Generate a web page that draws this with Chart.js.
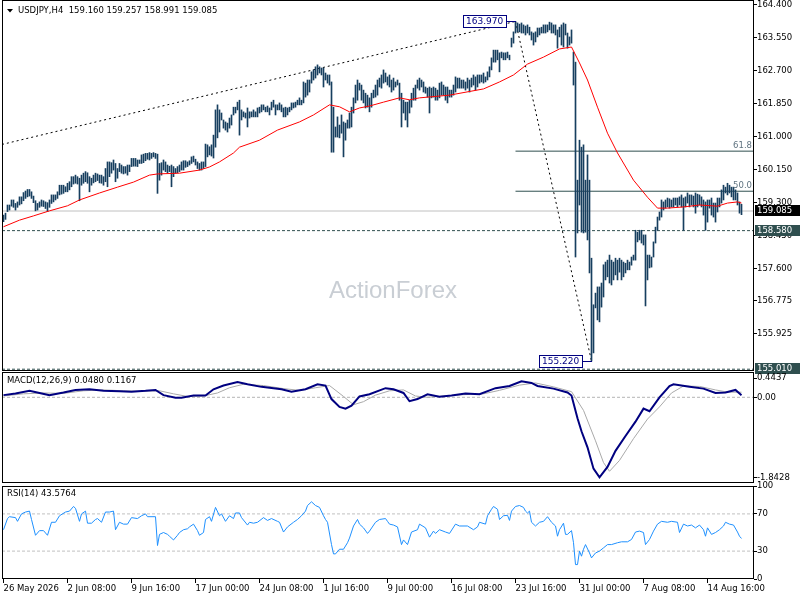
<!DOCTYPE html>
<html>
<head>
<meta charset="utf-8">
<title>USDJPY H4</title>
<script src="https://cdn.jsdelivr.net/npm/chart.js@4.4.1/dist/chart.umd.min.js"></script>
<style>
  html, body { margin: 0; padding: 0; background: #fff; }
  #wrap { position: relative; width: 800px; height: 600px; overflow: hidden; }
  canvas { position: absolute; left: 0; }
</style>
</head>
<body>
<div id="wrap">
  <canvas id="priceChart" width="800" height="375" style="top:0"></canvas>
  <canvas id="macdChart" width="800" height="111" style="top:372px"></canvas>
  <canvas id="rsiChart" width="800" height="122" style="top:478px"></canvas>
</div>
<script>
// time axis labels, one every 32 bars
const timeLabels = ['26 May 2026', '2 Jun 08:00', '9 Jun 16:00', '17 Jun 00:00', '24 Jun 08:00', '1 Jul 16:00',
  '9 Jul 00:00', '16 Jul 08:00', '23 Jul 16:00', '31 Jul 00:00', '7 Aug 08:00', '14 Aug 16:00']

// H4 bars, high / low
const priceHigh = [
  158.98,159.03,159.24,159.24,159.37,159.37,159.28,159.32,159.45,159.45,
  159.56,159.60,159.64,159.64,159.58,159.47,159.35,159.28,159.32,159.37,
  159.35,159.32,159.30,159.37,159.50,159.50,159.50,159.58,159.75,159.75,
  159.75,159.71,159.80,159.84,159.97,159.97,160.01,159.97,159.93,160.01,
  160.06,160.10,160.07,159.97,159.93,160.01,160.06,160.04,160.01,160.01,
  159.97,160.18,160.35,160.35,160.33,160.40,160.31,160.18,160.31,160.27,
  160.23,160.23,160.27,160.27,160.44,160.44,160.44,160.40,160.40,160.53,
  160.55,160.57,160.57,160.59,160.57,160.59,160.57,160.55,160.31,160.33,
  160.40,160.35,160.27,160.24,160.27,160.23,160.18,160.23,160.27,160.35,
  160.38,160.38,160.35,160.38,160.48,160.50,160.42,160.35,160.31,160.35,
  160.35,160.81,160.79,160.74,160.79,161.04,161.69,161.82,161.69,161.61,
  161.43,161.38,161.35,161.48,161.56,161.76,161.76,161.89,161.94,161.69,
  161.64,161.61,161.74,161.64,161.64,161.69,161.64,161.74,161.76,161.82,
  161.82,161.76,161.79,161.74,161.89,161.94,161.82,161.82,161.87,161.82,
  161.74,161.76,161.74,161.76,161.87,161.87,161.89,161.94,162.00,161.94,
  162.41,162.38,162.46,162.46,162.67,162.72,162.80,162.85,162.80,162.77,
  162.77,162.64,162.59,162.59,162.41,161.76,161.25,161.51,161.30,161.56,
  161.38,161.35,161.43,161.61,161.76,162.00,162.33,162.46,162.38,162.33,
  162.20,162.12,162.07,162.00,162.12,162.20,162.33,162.46,162.51,162.59,
  162.72,162.64,162.54,162.59,162.46,162.51,162.41,162.46,162.38,162.12,
  161.94,161.89,161.89,161.94,162.12,162.25,162.33,162.46,162.51,162.46,
  162.41,162.28,162.25,162.28,162.25,162.28,162.25,162.20,162.38,162.41,
  162.33,162.28,162.28,162.20,162.20,162.33,162.54,162.51,162.51,162.46,
  162.46,162.41,162.51,162.46,162.51,162.59,162.54,162.59,162.59,162.59,
  162.64,162.54,162.67,162.80,163.03,163.23,163.23,163.23,163.16,163.18,
  163.16,163.16,163.18,163.10,163.54,163.70,163.97,163.93,163.90,163.93,
  163.88,163.85,163.88,163.82,163.70,163.67,163.70,163.80,163.80,163.82,
  163.88,163.88,163.88,163.95,163.93,163.88,163.88,163.75,163.82,163.88,
  163.93,163.90,163.67,163.57,163.75,163.18,162.92,159.88,160.91,160.73,
  160.79,159.88,160.53,159.88,157.87,156.67,156.97,157.13,157.13,157.23,
  157.70,157.77,157.82,157.95,157.82,157.77,157.87,157.82,157.87,157.82,
  157.77,157.74,157.82,157.77,157.90,157.95,158.59,158.54,158.59,158.59,
  158.47,158.47,157.95,157.95,157.90,158.29,158.67,158.93,159.06,159.37,
  159.32,159.37,159.42,159.40,159.37,159.42,159.42,159.42,159.45,159.50,
  159.42,159.45,159.55,159.50,159.50,159.47,159.55,159.52,159.50,159.45,
  159.37,159.32,159.37,159.37,159.42,159.29,159.29,159.42,159.42,159.63,
  159.75,159.70,159.80,159.75,159.70,159.70,159.63,159.55,159.32,159.257
]
const priceLow = [
  158.81,158.87,159.07,159.11,159.21,159.18,159.11,159.18,159.24,159.27,
  159.35,159.41,159.45,159.47,159.41,159.30,159.09,159.11,159.18,159.21,
  159.20,159.15,159.07,159.18,159.28,159.32,159.37,159.41,159.50,159.52,
  159.54,159.58,159.58,159.63,159.71,159.78,159.80,159.78,159.35,159.75,
  159.80,159.84,159.80,159.58,159.75,159.81,159.84,159.87,159.81,159.80,
  159.75,159.84,159.71,159.97,160.06,160.14,159.84,159.93,160.10,160.06,
  160.04,160.06,160.01,160.10,160.23,160.24,160.24,160.23,160.31,160.31,
  160.33,160.38,160.42,160.40,160.44,160.48,160.44,159.54,159.88,160.01,
  160.14,160.10,160.06,160.10,159.71,159.97,160.06,160.07,160.10,160.14,
  160.14,160.21,160.23,160.27,160.31,160.35,160.27,160.18,160.14,160.14,
  160.18,160.23,160.48,160.53,160.50,160.45,160.73,160.97,161.12,161.43,
  161.22,161.17,161.12,161.22,161.30,161.56,161.61,161.69,161.04,161.43,
  161.51,161.48,161.25,161.48,161.51,161.51,161.51,161.51,161.61,161.64,
  161.69,161.64,161.64,161.56,161.69,161.76,161.56,161.69,161.69,161.64,
  161.51,161.51,161.56,161.64,161.69,161.74,161.76,161.82,161.82,161.82,
  161.87,162.02,162.07,162.15,162.38,162.46,162.51,162.59,162.64,162.59,
  162.28,162.46,162.38,162.33,160.60,160.60,160.99,160.99,160.97,161.09,
  160.48,160.91,161.22,161.22,161.25,161.61,161.87,161.94,162.20,161.94,
  161.87,161.74,161.76,161.64,161.76,162.00,162.02,162.07,162.28,162.25,
  162.38,162.41,162.33,162.28,162.15,162.20,162.28,162.33,161.94,161.25,
  161.61,161.43,161.25,161.61,161.76,161.94,161.94,162.25,162.20,162.28,
  162.15,162.12,162.02,161.61,162.00,162.02,161.94,161.94,162.00,162.07,
  162.07,161.94,161.87,162.02,162.02,162.07,162.15,162.25,162.25,162.25,
  162.25,162.20,162.25,162.15,162.28,162.33,162.20,162.28,162.38,162.41,
  162.38,162.41,162.46,162.54,162.72,162.92,162.92,162.98,162.67,163.03,
  162.98,162.98,163.03,162.98,163.31,163.41,163.67,163.70,163.70,163.67,
  163.67,163.62,163.67,163.62,163.49,163.36,163.44,163.57,163.62,163.67,
  163.67,163.67,163.70,163.75,163.67,163.67,163.62,163.28,163.57,163.36,
  163.31,163.62,163.28,163.36,163.41,162.33,157.90,158.52,159.24,158.54,
  158.52,158.54,158.34,157.49,155.22,155.43,156.59,156.28,156.23,156.61,
  156.87,157.31,157.39,157.23,157.18,157.31,157.44,157.31,157.51,157.31,
  157.39,157.49,157.57,157.57,157.69,157.82,157.82,158.29,158.34,158.26,
  158.21,156.64,157.31,157.62,157.64,157.90,158.26,158.59,158.85,158.93,
  159.11,159.16,159.19,159.16,159.19,159.19,159.24,159.19,159.24,159.19,
  158.59,159.19,159.29,159.19,159.24,159.19,159.03,159.19,159.24,159.19,
  158.98,158.59,158.80,159.16,158.98,158.93,158.80,159.06,159.19,159.29,
  159.37,159.55,159.50,159.55,159.45,159.37,159.37,159.24,159.03,158.991
]

// moving average (red), read at these bars
const maBar = [0, 8, 15, 23, 32, 38, 48, 57, 65, 73, 77, 88, 98, 103, 108, 115, 118, 128, 137, 148, 155, 163, 168, 173,
  178, 183, 190, 198, 203, 208, 223, 240, 248, 255, 262, 270, 278, 284, 288, 292, 297, 302, 307, 315, 322, 327, 332,
  340, 348, 357, 362, 367, 369]
const maPrice = [158.68, 158.85, 158.96, 159.09, 159.22, 159.37, 159.55, 159.70, 159.83, 160.01, 160.04, 160.06, 160.14,
  160.22, 160.35, 160.58, 160.73, 160.91, 161.17, 161.38, 161.56, 161.82, 161.77, 161.64, 161.74, 161.79, 161.89, 162.00,
  161.95, 162.00, 162.07, 162.23, 162.41, 162.59, 162.87, 163.05, 163.26, 163.31, 162.90, 162.46, 161.76, 161.09, 160.58,
  159.88, 159.44, 159.16, 159.16, 159.19, 159.24, 159.21, 159.29, 159.32, 159.29]

// MACD main (navy) and signal (grey)
const macdBar = [0, 6, 13, 18, 23, 30, 36, 43, 50, 58, 64, 71, 76, 80, 86, 89, 95, 101, 105, 110, 117, 122, 129, 139, 144,
  151, 157, 161, 164, 168, 171, 174, 178, 183, 191, 195, 200, 203, 207, 212, 218, 224, 231, 238, 246, 253, 259, 264, 267,
  275, 282, 284, 287, 289, 292, 295, 298, 302, 306, 311, 316, 320, 323, 328, 333, 335, 343, 350, 356, 361, 366, 369]
const macdMain = [0.05, 0.09, 0.15, 0.10, 0.05, 0.11, 0.17, 0.185, 0.15, 0.14, 0.13, 0.15, 0.17, 0.05, -0.01, -0.01, 0.04,
  0.04, 0.185, 0.27, 0.35, 0.30, 0.24, 0.185, 0.13, 0.185, 0.30, 0.27, -0.04, -0.22, -0.26, -0.19, 0.02, 0.07, 0.21, 0.185,
  0.10, -0.09, -0.04, 0.07, 0.015, 0.04, 0.09, 0.07, 0.21, 0.26, 0.37, 0.33, 0.26, 0.20, 0.11, 0.04, -0.48, -0.78, -1.15,
  -1.64, -1.84, -1.60, -1.23, -0.89, -0.56, -0.26, -0.32, 0.0, 0.26, 0.30, 0.245, 0.20, 0.10, 0.11, 0.17, 0.048]
const signalBar = [0, 10, 20, 30, 40, 50, 60, 70, 78, 85, 92, 100, 107, 113, 120, 130, 140, 148, 156, 163, 170, 175, 180,
  186, 193, 200, 206, 212, 220, 230, 240, 248, 258, 266, 275, 284, 290, 296, 300, 303, 308, 315, 322, 328, 334, 340, 348,
  356, 362, 369]
const signalLine = [0.03, 0.08, 0.10, 0.09, 0.15, 0.17, 0.15, 0.14, 0.15, 0.08, 0.02, 0.03, 0.10, 0.22, 0.30, 0.27, 0.20,
  0.16, 0.22, 0.27, 0.02, -0.17, -0.10, 0.05, 0.15, 0.17, 0.03, 0.0, 0.03, 0.06, 0.08, 0.16, 0.28, 0.33, 0.24, 0.13, -0.30,
  -1.0, -1.50, -1.70, -1.45, -0.95, -0.50, -0.22, 0.10, 0.26, 0.25, 0.17, 0.12, 0.1167]

// RSI(14)
const rsiBar = [0, 2, 3, 6, 7, 9, 11, 13, 14, 16, 18, 20, 22, 24, 26, 28, 31, 33, 35, 36, 38, 39, 41, 42, 44, 46, 47, 49,
  51, 53, 55, 56, 58, 60, 62, 64, 67, 69, 71, 72, 76, 77, 78, 80, 82, 83, 85, 87, 88, 90, 92, 93, 95, 97, 98, 100, 101,
  103, 104, 106, 108, 109, 111, 113, 115, 116, 118, 119, 122, 123, 125, 127, 130, 132, 134, 137, 138, 140, 142, 145, 147,
  149, 151, 152, 154, 156, 158, 160, 161, 162, 164, 165, 166, 168, 170, 172, 173, 175, 177, 178, 180, 182, 183, 186, 188,
  191, 192, 193, 195, 197, 199, 200, 202, 204, 207, 208, 211, 213, 215, 216, 218, 221, 223, 226, 228, 232, 235, 237, 238,
  241, 242, 244, 245, 247, 248, 250, 252, 253, 254, 256, 258, 260, 261, 262, 263, 264, 266, 268, 270, 272, 274, 276, 277,
  278, 280, 281, 282, 284, 285, 286, 287, 288, 289, 290, 291, 293, 294, 296, 298, 300, 302, 304, 307, 309, 312, 314, 316,
  318, 320, 321, 323, 325, 327, 329, 332, 334, 337, 338, 340, 342, 344, 346, 348, 350, 351, 352, 354, 356, 358, 360, 361,
  363, 365, 367, 368, 369]
const rsiValue = [53, 65, 67, 66, 62, 70, 72, 73, 64, 47, 52, 52, 47, 61, 61, 68, 72, 73, 78, 76, 62, 70, 73, 60, 60, 64,
  65, 61, 72, 72, 73, 53, 61, 59, 59, 66, 65, 68, 70, 67, 67, 36, 48, 50, 48, 46, 42, 47, 50, 53, 54, 56, 59, 52, 47, 50,
  64, 67, 62, 77, 68, 70, 62, 68, 65, 71, 71, 66, 58, 61, 60, 61, 66, 63, 65, 62, 61, 50.5, 56, 61, 64, 68, 73, 79, 83,
  79, 77, 68, 64, 61, 37, 27, 27, 32, 32, 39, 44, 57, 64, 59, 55, 49, 51.5, 61, 64, 65, 62, 59, 58, 56, 37, 42, 37, 50.5,
  53, 59, 55, 45, 51.5, 49, 53, 50.5, 49, 59, 57, 57, 53, 56, 61, 59, 68, 75, 78, 75, 64, 68, 68.5, 63, 73, 78, 79, 77,
  73, 71, 73, 61, 57, 61, 62, 67, 61, 57, 46, 53, 60, 48, 48, 52, 39, 15.5, 15.5, 30, 24.5, 32, 37, 28, 22.7, 28, 30,
  33.5, 37, 37, 39, 40, 40, 42.5, 50.5, 51.5, 50, 37, 42.5, 51.5, 59, 62, 61, 62, 61, 50, 59, 57, 58, 55, 58, 53, 46, 55,
  48, 50, 53, 57, 61, 59, 58, 50.5, 46, 43.58]

// axis ticks
const priceTicks = [164.4, 163.55, 162.7, 161.85, 161.0, 160.15, 159.3, 158.45, 157.6, 156.775, 155.925]
const macdTicks = [0.4437, 0, -1.8428]
const rsiTicks = [100, 70, 30, 0]
const rsiLevels = [70, 30]

// drawn objects
const bidPrice = 159.085
const supportPrice = 158.58
const lowLinePrice = 155.01
const swingHigh = { bar: 256, price: 163.97 }
const swingLow = { bar: 294, price: 155.22 }
const fiboRatios = [0.618, 0.5]
const trendBar = [-0.75, 256]
const trendPrice = [160.80, 163.97]

const X_MIN = -0.75
const X_MAX = 375.25
const FONT = { family: 'DejaVu Sans', size: 8.5 }
const FONT_CSS = '8.5px "DejaVu Sans"'

const pts = (xs, ys) => xs.map((x, k) => ({ x: x, y: ys[k] }))
const hLine = v => [{ x: X_MIN, y: v }, { x: X_MAX, y: v }]
const fiboPrice = r => swingLow.price + r * (swingHigh.price - swingLow.price)

const lineSet = (data, color, width, dash, order) => ({
  type: 'line', data: data, borderColor: color, borderWidth: width, borderDash: dash || [],
  pointRadius: 0, tension: 0, fill: false, order: order
})

function xAxis(show) {
  const axis = {
    type: 'linear', min: X_MIN, max: X_MAX, offset: false, display: show,
    afterBuildTicks: s => { s.ticks = timeLabels.map((t, k) => ({ value: k * 32 })) },
    grid: { drawOnChartArea: false, drawTicks: true, tickLength: 4, color: '#000' },
    border: { display: false },
    ticks: { autoSkip: false, maxRotation: 0, minRotation: 0, align: 'start', padding: 1, color: '#000', font: FONT,
      callback: v => timeLabels[Math.round(v / 32)] }
  }
  if (show) axis.afterFit = s => { s.height = 21; s.paddingLeft = 0; s.paddingRight = 0 }
  return axis
}

function yAxis(min, max, ticks, fmt) {
  return {
    position: 'right', min: min, max: max,
    afterBuildTicks: s => { s.ticks = ticks.map(v => ({ value: v })) },
    afterFit: s => { s.width = 46; s.paddingTop = 0; s.paddingBottom = 0 },
    grid: { drawOnChartArea: false, drawTicks: true, tickLength: 3, color: '#000' },
    border: { display: false },
    ticks: { color: '#000', font: FONT, padding: 0, callback: fmt }
  }
}

const frame = {
  id: 'frame',
  afterDraw(chart) {
    const { ctx, chartArea: a } = chart
    ctx.save()
    ctx.strokeStyle = '#000'
    ctx.lineWidth = 1
    ctx.strokeRect(Math.round(a.left) + 0.5, Math.round(a.top) + 0.5,
      Math.round(a.right - a.left) - 1, Math.round(a.bottom - a.top) - 1)
    ctx.restore()
  }
}

const caption = {
  id: 'caption',
  afterDraw(chart, args, opts) {
    if (!opts.text) return
    const ctx = chart.ctx
    ctx.save()
    ctx.font = FONT_CSS
    ctx.fillStyle = '#000'
    ctx.textAlign = 'left'
    ctx.textBaseline = 'middle'
    ctx.fillText(opts.text, opts.x, opts.y)
    ctx.restore()
  }
}

function pivotLabel(ctx, x, y, text) {
  ctx.font = '9px "DejaVu Sans"'
  const w = Math.round(ctx.measureText(text).width) + 6
  const right = Math.round(x) - 10
  const left = right - w
  const py = Math.round(y)
  ctx.fillStyle = '#fff'
  ctx.fillRect(left, py - 6, w, 12)
  ctx.strokeStyle = '#000080'
  ctx.lineWidth = 1
  ctx.strokeRect(left + 0.5, py - 5.5, w, 12)
  ctx.beginPath()
  ctx.moveTo(right, py + 0.5)
  ctx.lineTo(Math.round(x), py + 0.5)
  ctx.stroke()
  ctx.fillStyle = '#000080'
  ctx.textAlign = 'left'
  ctx.textBaseline = 'middle'
  ctx.fillText(text, left + 3, py + 0.5)
}

function axisTag(ctx, y, text, bg) {
  const py = Math.round(y)
  ctx.fillStyle = bg
  ctx.fillRect(755, py - 6, 45, 11)
  ctx.fillStyle = '#fff'
  ctx.font = FONT_CSS
  ctx.textAlign = 'left'
  ctx.textBaseline = 'middle'
  ctx.fillText(text, 757, py)
}

const priceOverlay = {
  id: 'priceOverlay',
  beforeDatasetsDraw(chart) {
    const ctx = chart.ctx
    ctx.save()
    ctx.font = '24px "Liberation Sans", Arial, sans-serif'
    ctx.fillStyle = '#c9ced4'
    ctx.textAlign = 'center'
    ctx.textBaseline = 'middle'
    ctx.fillText('ActionForex', 393, 291)
    ctx.restore()
  },
  afterDraw(chart) {
    const { ctx, chartArea: a } = chart
    const x = chart.scales.x
    const y = chart.scales.y
    ctx.save()
    // fibo level captions
    ctx.font = FONT_CSS
    ctx.fillStyle = '#5f7380'
    ctx.textAlign = 'right'
    ctx.textBaseline = 'bottom'
    fiboRatios.forEach(r => {
      ctx.fillText((r * 100).toFixed(1), a.right - 2, y.getPixelForValue(fiboPrice(r)) - 1)
    })
    pivotLabel(ctx, x.getPixelForValue(swingHigh.bar), y.getPixelForValue(swingHigh.price), swingHigh.price.toFixed(3))
    pivotLabel(ctx, x.getPixelForValue(swingLow.bar), y.getPixelForValue(swingLow.price), swingLow.price.toFixed(3))
    axisTag(ctx, y.getPixelForValue(supportPrice), supportPrice.toFixed(3), '#2f4f4f')
    axisTag(ctx, y.getPixelForValue(lowLinePrice), lowLinePrice.toFixed(3), '#2f4f4f')
    axisTag(ctx, y.getPixelForValue(bidPrice), bidPrice.toFixed(3), '#000')
    // symbol menu triangle
    ctx.fillStyle = '#000'
    ctx.beginPath()
    ctx.moveTo(7, 9)
    ctx.lineTo(13, 9)
    ctx.lineTo(10, 12.5)
    ctx.closePath()
    ctx.fill()
    ctx.restore()
  }
}

const base = {
  responsive: false,
  animation: false,
  devicePixelRatio: 1,
  events: []
}

new Chart(document.getElementById('priceChart'), {
  type: 'line',
  data: {
    datasets: [
      lineSet(pts(maBar, maPrice), '#ff0000', 1, null, 0),
      {
        type: 'bar', data: priceHigh.map((h, i) => ({ x: i, y: [priceLow[i], h] })),
        backgroundColor: '#173f5f', barThickness: 1, minBarLength: 1, order: 1
      },
      lineSet(pts(trendBar, trendPrice), '#000', 1, [2, 3], 2),
      lineSet([{ x: swingHigh.bar, y: swingHigh.price }, { x: swingLow.bar, y: swingLow.price }], '#000', 1, [2, 3], 2),
      ...fiboRatios.map(r => lineSet([{ x: swingHigh.bar, y: fiboPrice(r) }, { x: X_MAX, y: fiboPrice(r) }], '#2f4f4f', 1, null, 3)),
      lineSet(hLine(bidPrice), '#c0c0c0', 1, null, 4),
      lineSet(hLine(supportPrice), '#2f4f4f', 1, [3, 2], 4),
      lineSet(hLine(lowLinePrice), '#2f4f4f', 1, [3, 2], 4)
    ]
  },
  options: Object.assign({}, base, {
    layout: { padding: { left: 2, right: 0, top: 0, bottom: 4 } },
    scales: {
      x: xAxis(false),
      y: yAxis(154.964, 164.521, priceTicks, v => v.toFixed(3))
    },
    plugins: {
      legend: { display: false }, tooltip: { enabled: false },
      caption: { text: 'USDJPY,H4  159.160 159.257 158.991 159.085', x: 18, y: 11 }
    }
  }),
  plugins: [priceOverlay, frame, caption]
})

new Chart(document.getElementById('macdChart'), {
  type: 'line',
  data: {
    datasets: [
      lineSet(pts(macdBar, macdMain), '#000080', 2, null, 0),
      lineSet(pts(signalBar, signalLine), '#a9a9a9', 1, null, 1),
      lineSet(hLine(0), '#b4b4b4', 1, [3, 2], 2)
    ]
  },
  options: Object.assign({}, base, {
    layout: { padding: { left: 2, right: 0, top: 0, bottom: 0 } },
    scales: {
      x: xAxis(false),
      y: yAxis(-1.9692, 0.5816, macdTicks, v => v === 0 ? '0.00' : String(v))
    },
    plugins: {
      legend: { display: false }, tooltip: { enabled: false },
      caption: { text: 'MACD(12,26,9) 0.0480 0.1167', x: 7, y: 9 }
    }
  }),
  plugins: [frame, caption]
})

new Chart(document.getElementById('rsiChart'), {
  type: 'line',
  data: {
    datasets: [
      lineSet(pts(rsiBar, rsiValue), '#1e90ff', 1, null, 0),
      ...rsiLevels.map(v => lineSet(hLine(v), '#c0c0c0', 1, [3, 2], 1))
    ]
  },
  options: Object.assign({}, base, {
    layout: { padding: { left: 2, right: 0, top: 8, bottom: 0 } },
    scales: {
      x: xAxis(true),
      y: yAxis(0, 100, rsiTicks, v => String(v))
    },
    plugins: {
      legend: { display: false }, tooltip: { enabled: false },
      caption: { text: 'RSI(14) 43.5764', x: 7, y: 16 }
    }
  }),
  plugins: [frame, caption]
})
</script>
</body>
</html>
